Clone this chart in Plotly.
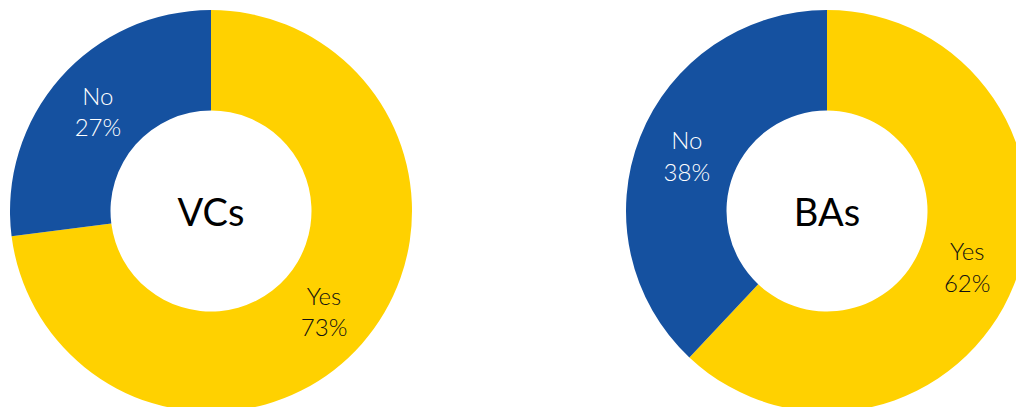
import plotly.graph_objects as go

labels = ["Yes", "No"]
vc_values = [73, 27]
ba_values = [62, 38]
titles = ["VCs", "BAs"]
colors = ["#FFD100", "#1551A0"]
text_colors = ["#111111", "#FFFFFF"]

W, H = 1040, 420
# pie domains (pixel boxes converted to paper fractions)
def dom(x0, x1, y0, y1):
    return dict(x=[x0 / W, x1 / W], y=[(H - y1) / H, (H - y0) / H])

domains = [dom(10, 412, 10, 412), dom(626, 1028, 10, 412)]

fig = go.Figure()
for vals, title, d in zip([vc_values, ba_values], titles, domains):
    fig.add_trace(go.Pie(
        labels=labels, values=vals, hole=0.5, sort=False,
        direction="clockwise", rotation=0,
        marker=dict(colors=colors, line=dict(width=0)),
        texttemplate="%{label}<br>%{percent:.0%}",
        textposition="inside", insidetextorientation="horizontal",
        textfont=dict(family="Lato", size=24, color=text_colors, weight=300),
        title=dict(text=title, position="middle center",
                   font=dict(family="Lato", size=38, color="#000000", weight=400)),
        domain=d, showlegend=False, hoverinfo="label+percent",
    ))

fig.update_layout(width=W, height=H, margin=dict(l=0, r=0, t=0, b=0),
                  paper_bgcolor="white", plot_bgcolor="white",
                  uniformtext=dict(minsize=24, mode="show"))

fig.write_html("out.html", config={"displayModeBar": False},
               post_script="document.body.style.margin='0';document.body.style.overflow='hidden';document.documentElement.style.overflow='hidden';")
